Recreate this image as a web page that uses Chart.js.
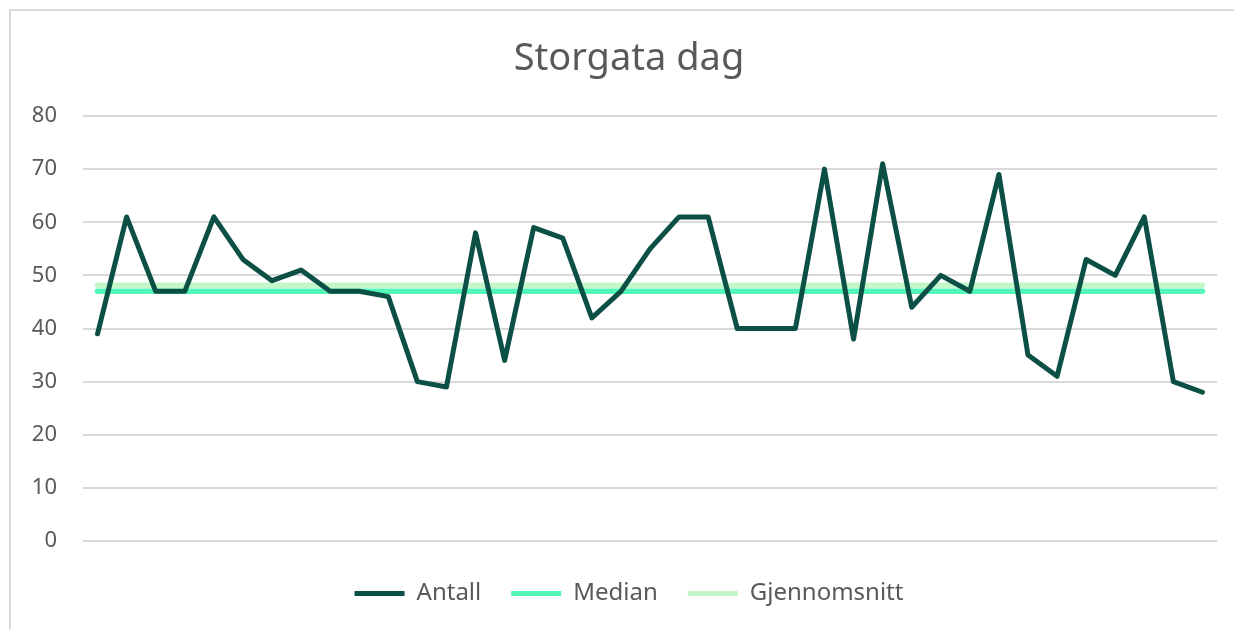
<!DOCTYPE html>
<html>
<head>
<meta charset="utf-8">
<script src="https://cdn.jsdelivr.net/npm/chart.js@4.4.1/dist/chart.umd.min.js"></script>
<style>
  html, body { margin: 0; padding: 0; background: #fff; }
  body { width: 1234px; height: 629px; overflow: hidden; position: relative; }
  .ramme { position: absolute; left: 9px; top: 9px; width: 1240px; height: 640px;
           border-top: 2px solid #d9d9d9; border-left: 2px solid #d9d9d9; }
  .boks { position: absolute; left: 0; top: 0; width: 1234px; height: 629px; }
</style>
</head>
<body>
<div class="ramme"></div>
<div class="boks"><canvas id="grafStorgata" width="1234" height="629"></canvas></div>
<script>
// en verdi per dag
var dager = [];
for (var i = 1; i <= 39; i++) dager.push(String(i));

var antall = [39, 61, 47, 47, 61, 53, 49, 51, 47, 47, 46, 30, 29, 58, 34, 59, 57, 42, 47, 55,
              61, 61, 40, 40, 40, 70, 38, 71, 44, 50, 47, 69, 35, 31, 53, 50, 61, 30, 28];
var medianVerdi = 47;
var snittVerdi = 48.15;
var yTicks = [0, 10, 20, 30, 40, 50, 60, 70, 80];

var tekstFarge = "#595959";
var fontNavn = "'Noto Sans', 'DejaVu Sans', sans-serif";

// tittel og forklaring sentreres litt lenger til hoyre, som i Excel-figuren
var sentrerTekst = {
    id: "sentrerTekst",
    afterLayout: function (chart) {
        if (chart.titleBlock) { chart.titleBlock.left = 41; }
        if (chart.legend) { chart.legend.left = 41; }
    }
};

var ctx = document.getElementById("grafStorgata");

new Chart(ctx, {
    type: "line",
    data: {
        labels: dager,
        datasets: [
            {
                label: "Antall",
                data: antall,
                borderColor: "#0b4f45",
                backgroundColor: "#0b4f45",
                borderWidth: 5,
                pointRadius: 0,
                borderJoinStyle: "round",
                borderCapStyle: "round",
                tension: 0,
                order: 0
            },
            {
                label: "Median",
                data: dager.map(function () { return medianVerdi; }),
                borderColor: "#52f7b8",
                backgroundColor: "#52f7b8",
                borderWidth: 5.5,
                pointRadius: 0,
                borderCapStyle: "round",
                order: 2
            },
            {
                label: "Gjennomsnitt",
                data: dager.map(function () { return snittVerdi; }),
                borderColor: "#c3f6c9",
                backgroundColor: "#c3f6c9",
                borderWidth: 5.5,
                pointRadius: 0,
                borderCapStyle: "round",
                order: 1
            }
        ]
    },
    plugins: [sentrerTekst],
    options: {
        responsive: false,
        animation: false,
        layout: { padding: { left: 0, right: 17, top: 0, bottom: 13.5 } },
        plugins: {
            title: {
                display: true,
                text: "Storgata dag",
                color: tekstFarge,
                font: { family: fontNavn, size: 38, weight: "normal" },
                padding: { top: 36, bottom: 34.4 }
            },
            legend: {
                position: "bottom",
                labels: {
                    color: tekstFarge,
                    font: { family: fontNavn, size: 24 },
                    boxWidth: 50,
                    boxHeight: 5,
                    padding: 30,
                    useBorderRadius: true,
                    borderRadius: 2.5,
                    generateLabels: function (chart) {
                        return chart.data.datasets.map(function (ds, i) {
                            return {
                                text: ds.label,
                                fillStyle: ds.borderColor,
                                strokeStyle: ds.borderColor,
                                lineWidth: 0,
                                fontColor: tekstFarge,
                                datasetIndex: i
                            };
                        });
                    }
                }
            },
            tooltip: { enabled: false }
        },
        scales: {
            x: {
                display: true,
                offset: true,
                grid: { display: false },
                border: { display: false },
                ticks: { display: false },
                afterFit: function (scale) { scale.height = 10.5; }
            },
            y: {
                min: 0,
                max: 80,
                afterBuildTicks: function (scale) {
                    scale.ticks = yTicks.map(function (v) { return { value: v }; });
                },
                afterFit: function (scale) { scale.width = 83; },
                border: { display: false },
                grid: { color: "#d9d9d9", lineWidth: 2, drawTicks: false },
                ticks: {
                    color: tekstFarge,
                    padding: 26,
                    font: { family: fontNavn, size: 22 }
                }
            }
        }
    }
});
</script>
</body>
</html>
